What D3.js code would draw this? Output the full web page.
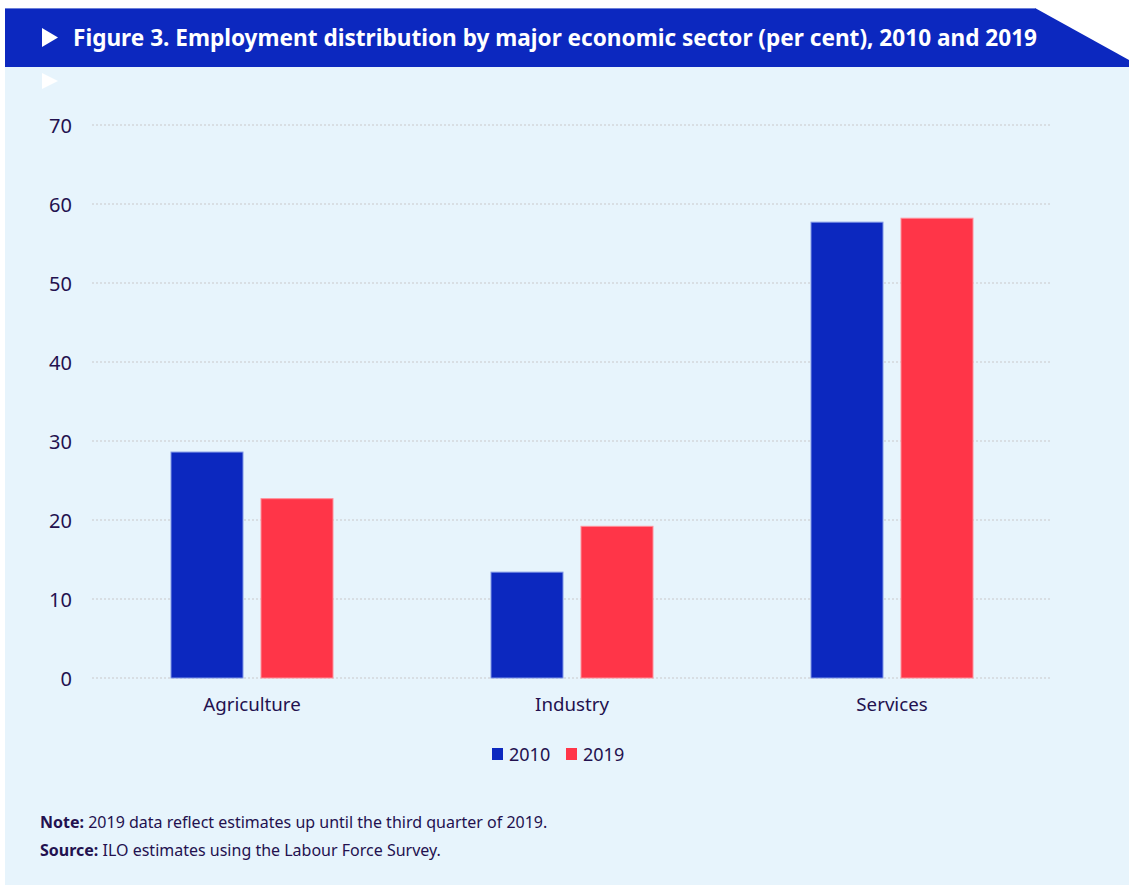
<!DOCTYPE html>
<html><head><meta charset="utf-8">
<script src="https://cdn.jsdelivr.net/npm/d3@7"></script>
<style>
html,body{margin:0;padding:0;background:#fff;}
svg{display:block;font-family:"Noto Sans",sans-serif;}
</style></head>
<body>
<script>
const categories = ["Agriculture", "Industry", "Services"];
const seriesNames = ["2010", "2019"];
const values2010 = [28.6, 13.4, 57.7];
const values2019 = [22.7, 19.2, 58.2];
const yTicks = [0, 10, 20, 30, 40, 50, 60, 70];
const colors = ["#0c28bf", "#ff3548"];
const strokeColors = ["#8096e6", "#ff8f9a"];

const W = 1129, H = 885;
const textColor = "#23114f";
const svg = d3.select("body").append("svg").attr("width", W).attr("height", H);

// panel background
svg.append("rect").attr("x", 5).attr("y", 60).attr("width", W - 5).attr("height", H - 60).attr("fill", "#e7f4fc");
// title band
svg.append("path").attr("d", `M5,8 L1035,8 L1129,60 L1129,67 L5,67 Z`).attr("fill", "#0c28bf");
svg.append("line").attr("x1", 5).attr("x2", 1035).attr("y1", 8.5).attr("y2", 8.5).attr("stroke", "#6b7fd8").attr("stroke-width", 1);
svg.append("path").attr("d", "M42,28 L58,37.5 L42,47 Z").attr("fill", "#fff");
svg.append("text").attr("x", 73).attr("y", 45.5).attr("fill", "#fff").attr("font-size", 22.6).attr("font-weight", "bold")
  .attr("textLength", 964).attr("lengthAdjust", "spacingAndGlyphs")
  .text("Figure 3. Employment distribution by major economic sector (per cent), 2010 and 2019");
svg.append("path").attr("d", "M42,73 L58,81 L42,89 Z").attr("fill", "#fff");

const x0 = d3.scaleBand().domain(categories).range([92, 1052]).padding(0);
const bw = x0.bandwidth();
const x1 = d3.scaleBand().domain(seriesNames).range([bw / 2 - 81, bw / 2 + 81]).paddingInner(0.2).paddingOuter(0);
const y = d3.scaleLinear().domain([0, 70]).range([678, 125]);

// grid
const grid = svg.append("g");
grid.selectAll("line").data(yTicks).join("line")
  .attr("x1", 92).attr("x2", 1052)
  .attr("y1", d => y(d)).attr("y2", d => y(d))
  .attr("stroke", "#d3d6da").attr("stroke-width", 1.5).attr("stroke-dasharray", "2,2");

// y axis labels
const yAxis = svg.append("g").attr("transform", "translate(72,0)")
  .call(d3.axisLeft(y).tickValues(yTicks).tickSize(0).tickPadding(0));
yAxis.select(".domain").remove();
yAxis.selectAll("text").attr("fill", textColor).attr("font-size", 20).attr("font-family", "Noto Sans").attr("dy", "0.35em");

// bars
const data = categories.map((c, i) => ({cat: c, vals: [values2010[i], values2019[i]]}));
const groups = svg.append("g").selectAll("g").data(data).join("g")
  .attr("transform", d => `translate(${x0(d.cat)},0)`);
groups.selectAll("rect").data(d => d.vals.map((v, j) => ({key: seriesNames[j], v, j}))).join("rect")
  .attr("x", d => x1(d.key)).attr("width", x1.bandwidth())
  .attr("y", d => y(d.v)).attr("height", d => y(0) - y(d.v))
  .attr("fill", d => colors[d.j]).attr("stroke", d => strokeColors[d.j]).attr("stroke-width", 1);

// x axis labels
const xAxis = svg.append("g").attr("transform", "translate(0,678)")
  .call(d3.axisBottom(x0).tickSize(0).tickPadding(0));
xAxis.select(".domain").remove();
xAxis.selectAll("text").attr("fill", textColor).attr("font-size", 18.7).attr("font-family", "Noto Sans").attr("dy", "0").attr("y", 33);

// legend
const legend = svg.append("g");
const legItems = [{x: 492, tx: 509}, {x: 566, tx: 583}];
seriesNames.forEach((s, i) => {
  legend.append("rect").attr("x", legItems[i].x).attr("y", 748).attr("width", 11).attr("height", 12).attr("fill", colors[i]);
  legend.append("text").attr("x", legItems[i].tx).attr("y", 761).attr("fill", textColor).attr("font-size", 18).text(s);
});

// notes
const n1 = svg.append("text").attr("x", 40).attr("y", 828).attr("fill", textColor).attr("font-size", 16);
n1.append("tspan").attr("font-weight", "bold").text("Note:");
n1.append("tspan").text(" 2019 data reflect estimates up until the third quarter of 2019.");
const n2 = svg.append("text").attr("x", 40).attr("y", 856).attr("fill", textColor).attr("font-size", 16);
n2.append("tspan").attr("font-weight", "bold").text("Source:");
n2.append("tspan").text(" ILO estimates using the Labour Force Survey.");
</script>
</body></html>
